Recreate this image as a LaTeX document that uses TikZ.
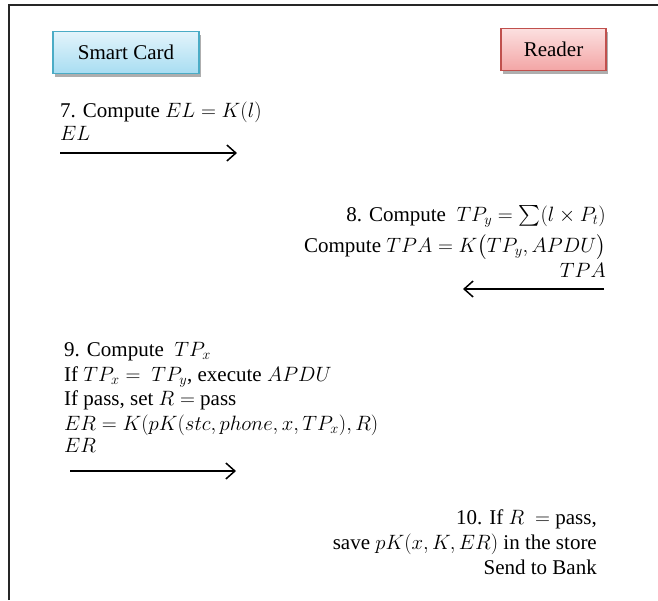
\documentclass[tikz,border=0pt]{standalone}
\usepackage{amsmath}
\usepackage{fontspec}
\setmainfont{Liberation Serif}
\usetikzlibrary{arrows.meta,shadows}
\definecolor{cardborder}{HTML}{4BACC6}
\definecolor{cardtop}{HTML}{E3F4FB}
\definecolor{cardbot}{HTML}{A8DDF2}
\definecolor{readborder}{HTML}{C0504D}
\definecolor{readtop}{HTML}{FCE0E0}
\definecolor{readbot}{HTML}{F3A5A5}
\tikzset{
  party/.style={draw, line width=1.8pt, minimum height=42pt, inner sep=0pt,
    font=\fontsize{21}{25}\selectfont,
    drop shadow={shadow xshift=2pt, shadow yshift=-3pt, fill=black!45, opacity=0.7}},
  lline/.style={anchor=base west, inner sep=0pt, font=\fontsize{21}{25}\selectfont},
  rline/.style={anchor=base east, inner sep=0pt, font=\fontsize{21}{25}\selectfont},
  msg/.style={line width=1.5pt, -{Straight Barb[length=9pt,width=16pt,line width=1.5pt]}}
}
\begin{document}
\begin{tikzpicture}[x=1pt,y=-1pt]
\useasboundingbox (0,0) rectangle (658,600);
\draw[line width=1.5pt, black!85] (9,600) -- (9,5) -- (658,5);
% parties
\node[party, draw=cardborder, top color=cardtop, bottom color=cardbot,
  minimum width=146pt] (card) at (126,52.5) {Smart Card};
\node[party, draw=readborder, top color=readtop, bottom color=readbot,
  minimum width=105pt] (reader) at (553.5,49.5) {Reader};
% step 7
\node[lline] (s7a) at (60,117) {7. Compute $EL = K(l)$};
\node[lline] (s7b) at (60,140) {$EL$};
\coordinate (a1s) at (60,153);
\coordinate (a1e) at (237,153);
\draw[msg] (a1s) -- (a1e);
% step 8
\node[rline] (s8a) at (606,221) {8. Compute\ \ $TP_y = \sum(l \times P_t)$};
\node[rline] (s8b) at (606,252) {Compute $TPA = K\bigl(TP_y, APDU\bigr)$};
\node[rline] (s8c) at (606,277) {$TPA$};
\coordinate (a2s) at (604,289);
\coordinate (a2e) at (463,289);
\draw[msg] (a2s) -- (a2e);
% step 9
\node[lline] (s9a) at (64,356) {9. Compute\ \ $TP_x$};
\node[lline] (s9b) at (64,381) {If $TP_x =\ TP_y$, execute $APDU$};
\node[lline] (s9c) at (64,405) {If pass, set $R =$ pass};
\node[lline] (s9d) at (64,430) {$ER = K(pK(stc, phone, x, TP_x), R)$};
\node[lline] (s9e) at (64,452) {$ER$};
\coordinate (a3s) at (70,471);
\coordinate (a3e) at (236,471);
\draw[msg] (a3s) -- (a3e);
% step 10
\node[rline] (s10a) at (597,524) {10. If $R\ =$ pass,};
\node[rline] (s10b) at (597,549) {save $pK(x, K, ER)$ in the store};
\node[rline] (s10c) at (597,574) {Send to Bank};
\end{tikzpicture}
\end{document}
